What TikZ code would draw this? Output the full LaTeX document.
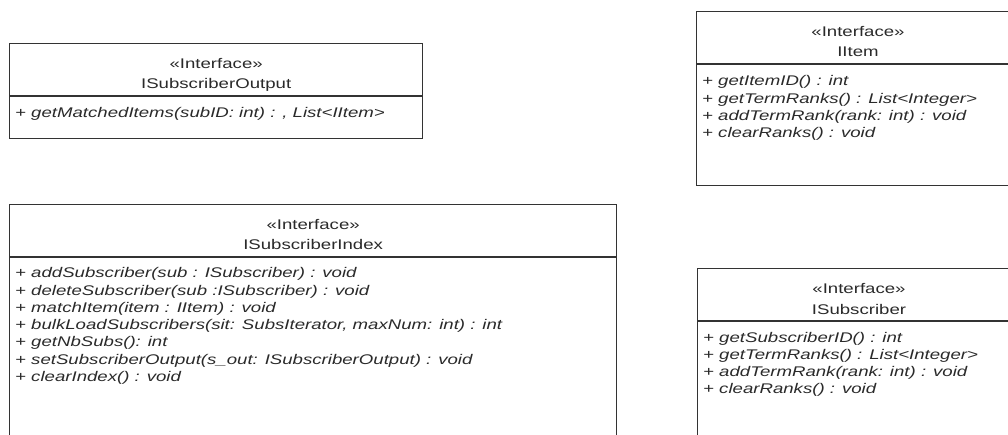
\documentclass[tikz,border=0pt]{standalone}
\usepackage{fontspec}
\setmainfont{Liberation Sans}[FakeStretch=1.33]
\definecolor{ink}{HTML}{2A2A2A}
\definecolor{edge}{HTML}{333333}

\begin{document}
\begin{tikzpicture}[x=1pt,y=-1pt,
  frame/.style={draw=edge,line width=1.3pt,fill=white,rectangle,anchor=north west,inner sep=0pt},
  rule/.style={draw=edge,line width=1.3pt},
  head/.style={font=\fontsize{14}{16}\selectfont,text=ink,inner sep=0pt,anchor=base},
  member/.style={font=\fontsize{14}{16}\selectfont\itshape,text=ink,inner sep=0pt,anchor=base west},
]
\useasboundingbox (0,0) rectangle (1008,435);
\clip (0,0) rectangle (1008,435);

% ---- ISubscriberOutput ----
\node[frame,minimum width=413pt,minimum height=95pt] (out) at (9,43) {};
\node[head] (out-st) at (out.north |- 0,69) {«Interface»};
\node[head] (out-nm) at (out.north |- 0,89) {ISubscriberOutput};
\draw[rule] (out.west |- 0,96) -- (out.east |- 0,96);
\node[member] (out-m0) at (15,118) {+ getMatchedItems(subID: int) : , List<IItem>};

% ---- ISubscriberIndex ----
\node[frame,minimum width=607pt,minimum height=250pt] (idx) at (9,204) {};
\node[head] (idx-st) at (idx.north |- 0,230) {«Interface»};
\node[head] (idx-nm) at (idx.north |- 0,250) {ISubscriberIndex};
\draw[rule] (idx.west |- 0,257) -- (idx.east |- 0,257);
\foreach \t [count=\i from 0] in {
  {+ addSubscriber(sub : ISubscriber) : void},
  {+ deleteSubscriber(sub :ISubscriber) : void},
  {+ matchItem(item : IItem) : void},
  {+ bulkLoadSubscribers(sit: SubsIterator, maxNum: int) : int},
  {+ getNbSubs(): int},
  {+ setSubscriberOutput(s\_out: ISubscriberOutput) : void},
  {+ clearIndex() : void}}
  \node[member] (idx-m\i) at (15,278+17.2*\i) {\t};

% ---- IItem ----
\node[frame,minimum width=330pt,minimum height=174pt] (item) at (696,11) {};
\node[head] (item-st) at (858,37) {«Interface»};
\node[head] (item-nm) at (858,57) {IItem};
\draw[rule] (item.west |- 0,64) -- (item.east |- 0,64);
\foreach \t [count=\i from 0] in {
  {+ getItemID() : int},
  {+ getTermRanks() : List<Integer>},
  {+ addTermRank(rank: int) : void},
  {+ clearRanks() : void}}
  \node[member] (item-m\i) at (702,86+17.2*\i) {\t};

% ---- ISubscriber ----
\node[frame,minimum width=330pt,minimum height=200pt] (sub) at (697,268) {};
\node[head] (sub-st) at (859,293.5) {«Interface»};
\node[head] (sub-nm) at (859,314) {ISubscriber};
\draw[rule] (sub.west |- 0,321) -- (sub.east |- 0,321);
\foreach \t [count=\i from 0] in {
  {+ getSubscriberID() : int},
  {+ getTermRanks() : List<Integer>},
  {+ addTermRank(rank: int) : void},
  {+ clearRanks() : void}}
  \node[member] (sub-m\i) at (703,342+17.2*\i) {\t};
\end{tikzpicture}
\end{document}
